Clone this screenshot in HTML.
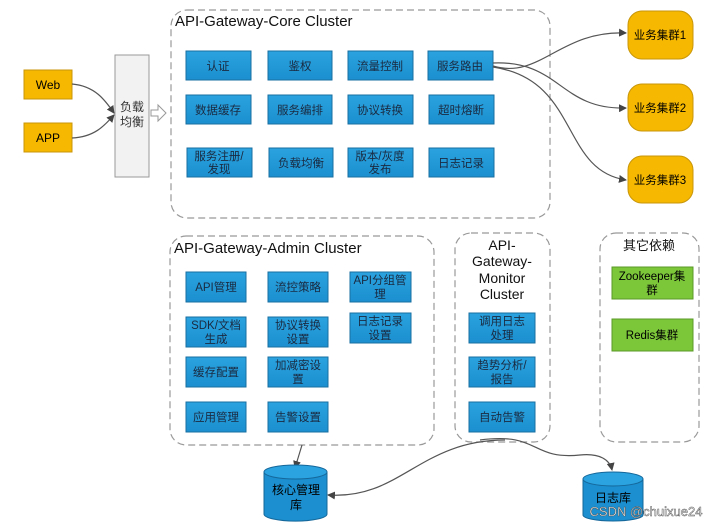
<!DOCTYPE html>
<html><head><meta charset="utf-8"><style>
html,body{margin:0;padding:0;background:#fff;}
svg text{font-family:"Liberation Sans","Noto Sans CJK SC",sans-serif;}
</style></head><body>
<svg width="726" height="527" viewBox="0 0 726 527" xmlns="http://www.w3.org/2000/svg">
<defs>
<marker id="ar" markerWidth="8" markerHeight="8" refX="7" refY="4" orient="auto" markerUnits="userSpaceOnUse">
<path d="M0,0 L8,4 L0,8 z" fill="#444"/></marker>
<linearGradient id="bl" x1="0" y1="0" x2="0" y2="1"><stop offset="0" stop-color="#2ba3e0"/><stop offset="1" stop-color="#1b8fcf"/></linearGradient>
</defs>
<g fill="none" stroke="#999" stroke-width="1.2" stroke-dasharray="7,4">
<rect x="171" y="10" width="379" height="208" rx="16"/>
<rect x="170" y="236" width="264" height="209" rx="16"/>
<rect x="455" y="233" width="95" height="209" rx="16"/>
<rect x="600" y="233" width="99" height="209" rx="16"/>
</g>
<g font-size="15" fill="#111">
<text x="175" y="26">API-Gateway-Core Cluster</text>
<text x="174" y="253">API-Gateway-Admin Cluster</text>
<g font-size="14">
<text x="502" y="250" text-anchor="middle">API-</text>
<text x="502" y="266" text-anchor="middle">Gateway-</text>
<text x="502" y="283" text-anchor="middle">Monitor</text>
<text x="502" y="299" text-anchor="middle">Cluster</text>
</g>
<text x="649" y="250" text-anchor="middle" font-size="13">其它依赖</text>
</g>
<rect x="24" y="70" width="48" height="29" fill="#f6b800" stroke="#c8960a"/>
<rect x="24" y="123" width="48" height="29" fill="#f6b800" stroke="#c8960a"/>
<text x="48" y="89" font-size="12" text-anchor="middle">Web</text>
<text x="48" y="142" font-size="12" text-anchor="middle">APP</text>
<rect x="115" y="55" width="34" height="122" fill="#f2f2f2" stroke="#999"/>
<text x="132" y="111" font-size="12" text-anchor="middle" fill="#333">负载</text>
<text x="132" y="126" font-size="12" text-anchor="middle" fill="#333">均衡</text>
<path d="M151,110 h7 v-5 l8,8 l-8,8 v-5 h-7 z" fill="#fff" stroke="#999"/>
<path d="M72,84 C95,86 105,100 114,113" fill="none" stroke="#555" stroke-width="1.2" marker-end="url(#ar)"/>
<path d="M72,138 C95,137 105,125 114,115" fill="none" stroke="#555" stroke-width="1.2" marker-end="url(#ar)"/>
<g fill="url(#bl)" stroke="#1a6fa0">
<rect x="186" y="51" width="65" height="29"/><rect x="268" y="51" width="64" height="29"/><rect x="348" y="51" width="65" height="29"/><rect x="428" y="51" width="65" height="29"/>
<rect x="186" y="95" width="65" height="29"/><rect x="268" y="95" width="64" height="29"/><rect x="348" y="95" width="65" height="29"/><rect x="429" y="95" width="65" height="29"/>
<rect x="187" y="148" width="65" height="29"/><rect x="269" y="148" width="64" height="29"/><rect x="348" y="148" width="65" height="29"/><rect x="429" y="148" width="65" height="29"/>
<rect x="186" y="272" width="60" height="30"/><rect x="268" y="272" width="60" height="30"/><rect x="350" y="272" width="61" height="30"/>
<rect x="186" y="317" width="60" height="30"/><rect x="268" y="317" width="60" height="30"/><rect x="350" y="313" width="61" height="30"/>
<rect x="186" y="357" width="60" height="30"/><rect x="268" y="357" width="60" height="30"/>
<rect x="186" y="402" width="60" height="30"/><rect x="268" y="402" width="60" height="30"/>
<rect x="469" y="313" width="66" height="30"/><rect x="469" y="357" width="66" height="30"/><rect x="469" y="402" width="66" height="30"/>
</g>
<g font-size="11.5" fill="#1a2a40" text-anchor="middle">
<text x="218" y="70">认证</text><text x="300" y="70">鉴权</text><text x="380" y="70">流量控制</text><text x="460" y="70">服务路由</text>
<text x="218" y="114">数据缓存</text><text x="300" y="114">服务编排</text><text x="380" y="114">协议转换</text><text x="461" y="114">超时熔断</text>
<text x="219" y="160">服务注册/</text><text x="219" y="173">发现</text><text x="301" y="167">负载均衡</text><text x="380" y="160">版本/灰度</text><text x="380" y="173">发布</text><text x="461" y="167">日志记录</text>
<text x="216" y="291">API管理</text><text x="298" y="291">流控策略</text><text x="380" y="284">API分组管</text><text x="380" y="298">理</text>
<text x="216" y="329">SDK/文档</text><text x="216" y="343">生成</text><text x="298" y="329">协议转换</text><text x="298" y="343">设置</text><text x="380" y="325">日志记录</text><text x="380" y="339">设置</text>
<text x="216" y="376">缓存配置</text><text x="298" y="369">加减密设</text><text x="298" y="383">置</text>
<text x="216" y="421">应用管理</text><text x="298" y="421">告警设置</text>
<text x="502" y="325">调用日志</text><text x="502" y="339">处理</text><text x="502" y="369">趋势分析/</text><text x="502" y="383">报告</text><text x="502" y="421">自动告警</text>
</g>
<rect x="612" y="267" width="81" height="32" fill="#7cc63a" stroke="#5a9a28"/>
<rect x="612" y="319" width="81" height="32" fill="#7cc63a" stroke="#5a9a28"/>
<text x="652" y="280" font-size="11.5" text-anchor="middle">Zookeeper集</text>
<text x="652" y="294" font-size="11.5" text-anchor="middle">群</text>
<text x="652" y="339" font-size="11.5" text-anchor="middle">Redis集群</text>
<g fill="#f6b800" stroke="#c8960a">
<rect x="628" y="11" width="65" height="48" rx="14"/><rect x="628" y="84" width="65" height="47" rx="14"/><rect x="628" y="156" width="65" height="47" rx="14"/>
</g>
<g font-size="11.5" text-anchor="middle"><text x="660" y="39">业务集群1</text><text x="660" y="112">业务集群2</text><text x="660" y="184">业务集群3</text></g>
<g fill="none" stroke="#555" stroke-width="1.2">
<path d="M493,66 C540,80 560,30 626,33" marker-end="url(#ar)"/>
<path d="M493,63 C560,60 560,110 626,108" marker-end="url(#ar)"/>
<path d="M493,67 C580,80 560,170 626,180" marker-end="url(#ar)"/>
<path d="M302,445 L295,468" marker-end="url(#ar)"/>
<path d="M505,440 C420,440 400,500 328,495" marker-end="url(#ar)"/>
<path d="M480,440 C540,432 530,460 580,455 C600,453 610,460 612,470" marker-end="url(#ar)"/>
</g>
<g fill="#1b8fcf" stroke="#15679a">
<path d="M264,472 v42 a31,7 0 0 0 63,0 v-42"/>
<ellipse cx="295.5" cy="472" rx="31.5" ry="7" fill="#2ba3e0"/>
<path d="M583,479 v36 a30,6 0 0 0 60,0 v-36"/>
<ellipse cx="613" cy="479" rx="30" ry="7" fill="#2ba3e0"/>
</g>
<text x="296" y="494" font-size="12" text-anchor="middle">核心管理</text>
<text x="296" y="509" font-size="12" text-anchor="middle">库</text>
<text x="613" y="502" font-size="12" text-anchor="middle">日志库</text>
<text x="646" y="516" font-size="13" text-anchor="middle" fill="#fff" stroke="#555" stroke-width="0.5">CSDN @chuixue24</text>
</svg>
</body></html>
